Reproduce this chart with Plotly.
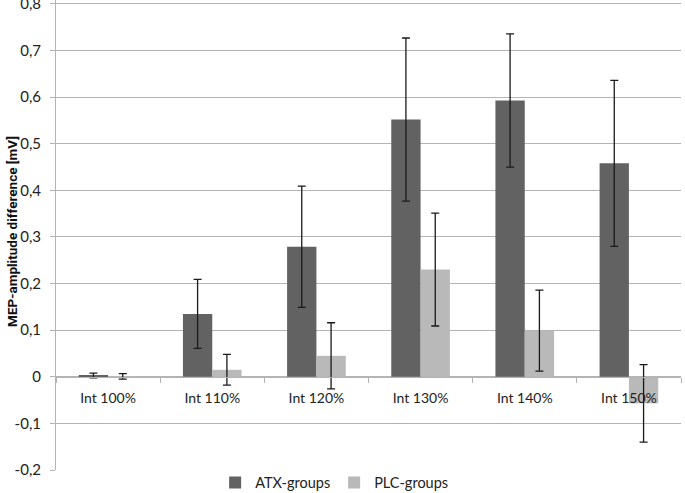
import plotly.graph_objects as go

categories = ["Int 100%", "Int 110%", "Int 120%", "Int 130%", "Int 140%", "Int 150%"]
atx_values = [0.003, 0.135, 0.279, 0.552, 0.593, 0.458]
atx_errors = [0.005, 0.074, 0.130, 0.175, 0.143, 0.178]
plc_values = [0.001, 0.015, 0.045, 0.230, 0.099, -0.057]
plc_errors = [0.006, 0.033, 0.071, 0.121, 0.087, 0.083]
y_tick_values = [-0.2, -0.1, 0, 0.1, 0.2, 0.3, 0.4, 0.5, 0.6, 0.7, 0.8]
y_tick_labels = ["-0,2", "-0,1", "0", "0,1", "0,2", "0,3", "0,4", "0,5", "0,6", "0,7", "0,8"]

FONT = "Lato"
GRID = "#b4b4b4"
SHIFT = 20  # page is scrolled up by this many px
Y_MIN, Y_MAX = -0.2, 0.83
PLOT_H = 480.5

fig = go.Figure()
fig.add_trace(go.Bar(
    x=categories, y=atx_values, name="ATX-groups",
    marker=dict(color="#626262", line=dict(width=0)),
    error_y=dict(type="data", array=atx_errors, visible=True,
                 color="#1a1a1a", thickness=1.3, width=4),
))
fig.add_trace(go.Bar(
    x=categories, y=plc_values, name="PLC-groups",
    marker=dict(color="#b9b9b9", line=dict(width=0)),
    error_y=dict(type="data", array=plc_errors, visible=True,
                 color="#1a1a1a", thickness=1.3, width=4),
))

fig.update_layout(
    width=685, height=560,
    margin=dict(l=56, r=4, t=10, b=560 - 10 - PLOT_H, autoexpand=False),
    paper_bgcolor="white", plot_bgcolor="white",
    barmode="group", bargap=0.437, bargroupgap=0,
    font=dict(family=FONT, size=14, color="#222222"),
    showlegend=True,
    legend=dict(orientation="h", x=0.445, xanchor="center", y=0.0073, yanchor="top",
                font=dict(family=FONT, size=14.5, color="#222222"),
                entrywidth=74, entrywidthmode="pixels",
                bgcolor="rgba(0,0,0,0)"),
    annotations=[dict(
        text="<b>MEP-amplitude difference [mV]</b>", textangle=-90,
        xref="paper", yref="paper", x=-0.0704, y=0.496, xanchor="center", yanchor="middle",
        showarrow=False, font=dict(family="Roboto", size=13.5, color="#111111"),
    )],
)
fig.update_xaxes(
    type="category", anchor="free", position=(0 - Y_MIN) / (Y_MAX - Y_MIN),
    showline=True, linecolor=GRID, linewidth=1,
    ticks="outside", tickson="boundaries", ticklen=5, tickcolor=GRID,
    ticklabelstandoff=8,
    showgrid=False, tickfont=dict(family=FONT, size=14, color="#222222"),
)
fig.update_yaxes(
    range=[Y_MIN, Y_MAX], tickvals=y_tick_values, ticktext=y_tick_labels,
    showgrid=True, gridcolor=GRID, gridwidth=1,
    zeroline=True, zerolinecolor=GRID, zerolinewidth=1,
    showline=True, linecolor=GRID, linewidth=1, mirror=False,
    ticks="outside", ticklen=5, tickcolor=GRID, ticklabelstandoff=6,
    tickfont=dict(family=FONT, size=15, color="#222222"),
)

fig.write_html("out.html", config={"displayModeBar": False},
               post_script="document.body.style.margin='0';document.body.style.marginTop='-%dpx';document.body.style.overflow='hidden';" % SHIFT)
